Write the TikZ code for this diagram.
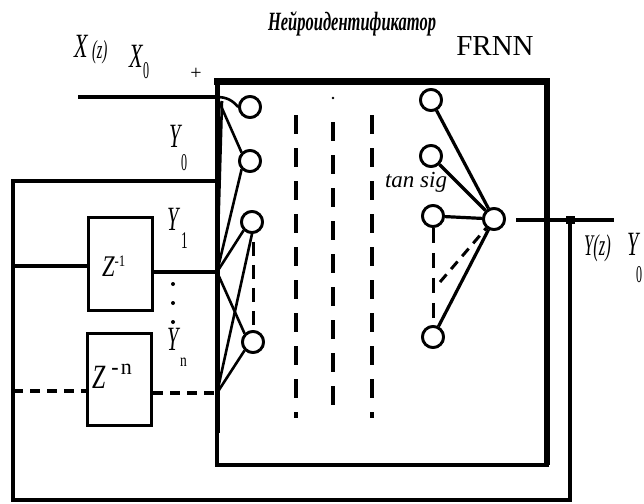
\documentclass[tikz,border=0pt]{standalone}
\usepackage{fontspec}
\setmainfont{Liberation Serif}
\usetikzlibrary{calc}
\newcommand{\cnd}[2]{\scalebox{#1}[1]{#2}}
\begin{document}
\begin{tikzpicture}[x=1pt,y=-1pt,
  wire/.style={line width=3.2pt},
  thin wire/.style={line width=2.6pt},
  dwire/.style={line width=3.2pt,dash pattern=on 10pt off 7pt},
  colline/.style={line width=3.8pt,dash pattern=on 19pt off 14pt},
  neuron/.style={circle,draw,line width=2.8pt,minimum size=21pt,inner sep=0pt,fill=white},
  delay/.style={draw,line width=3pt,minimum width=64pt,inner sep=0pt},
  lbl/.style={inner sep=0pt,anchor=base west,font=\itshape\fontsize{34}{34}\selectfont},
  sub/.style={inner sep=0pt,anchor=base west,font=\fontsize{24}{24}\selectfont}
]
\useasboundingbox (0,0) rectangle (644,503);
\fill[white] (0,0) rectangle (644,503);

% main box
\coordinate (tr) at (547,81);
\coordinate (br) at (547,465);
\coordinate (bl) at (217,465);
\draw[line width=7pt] (214,81) -- (550,81);
\draw[line width=6pt] (547,78) -- (br);
\draw[line width=4pt] (549,465) -- (bl);
\draw[line width=5pt] (217,78) -- (217,433);
\draw[line width=3.5pt] (217,433) -- (217,467);

% junctions on box edge
\coordinate (jx) at (217,97);
\coordinate (j0) at (217,181);
\coordinate (j1) at (217,272);
\coordinate (jn) at (217,393);

% external lines
\coordinate (xin) at (78,97);
\coordinate (lt) at (13,181);
\coordinate (lb) at (13,500);
\coordinate (rb) at (570,500);
\coordinate (rj) at (570,220);
\coordinate (yout) at (614,220);
\draw[wire] (xin) -- (jx);
\draw[wire] (j0) -- (lt) -- (lb) -- (rb) -- (rj);

% delay blocks
\node[delay,minimum height=93pt] (z1) at (120,263.5) {};
\node[delay,minimum height=92pt] (zn) at (119.5,379) {};
\node[inner sep=0pt,anchor=base west] (z1t) at (102,276) {\itshape\fontsize{30}{30}\selectfont\cnd{0.75}{Z}\raisebox{10pt}{\upshape\fontsize{16}{16}\selectfont\cnd{0.8}{-1}}};
\node[inner sep=0pt,anchor=base west] (znt) at (92,388) {\itshape\fontsize{34}{34}\selectfont\cnd{0.7}{Z}\hspace{6pt}\raisebox{14pt}{\upshape\fontsize{22}{22}\selectfont\textbf{-}\hspace{2pt}n}};
\draw[wire] (13,266) -- (z1.west |- 0,266);
\draw[wire] (z1.east |- 0,272) -- (j1);
\draw[dwire] (13,391) -- (zn.west |- 0,391);
\draw[dwire] (zn.east |- 0,393) -- (jn);
% dotted
\foreach \yy in {284,303,322} \fill (173,\yy) circle (2pt);

% left neuron layer connections
\node[neuron] (a1) at (250,107) {};
\node[neuron] (a2) at (250,161) {};
\node[neuron] (a3) at (252,222) {};
\node[neuron] (a4) at (253,342) {};
\coordinate (jt) at (222,101);
\draw[thin wire] (jx) to[bend left=25] (a1.west);
\draw[thin wire] (jx) -- (a2.north west);
\draw[thin wire] (j1) -- (jt);
\draw[thin wire] (j1) -- (a2.south west);
\draw[thin wire] (j1) -- (a3.south west);
\draw[thin wire] (j1) -- (a4.north west);
\draw[thin wire] (jn) -- (a3.south);
\draw[thin wire] (jn) -- (a4.south west);
\node[neuron] at (a1) {};
\node[neuron] at (a2) {};
\node[neuron] at (a3) {};
\node[neuron] at (a4) {};
\draw[line width=3pt,dash pattern=on 14pt off 9pt] ($(a3.south)+(1,8)$) -- ($(a4.north)+(0,-4)$);

% hidden layer columns
\draw[colline] (296,115) -- (296,418);
\draw[colline] (333,122) -- (333,418);
\fill (333,98) circle (1.3pt);
\draw[colline] (372,115) -- (372,418);

% right layer
\node[neuron] (b1) at (431,100) {};
\node[neuron] (b2) at (431,156) {};
\node[neuron] (b3) at (433,216) {};
\node[neuron] (b4) at (433,337) {};
\node[neuron] (o) at (494,219) {};
\coordinate (dend) at (440,282);
\draw[wire] (b1) -- (o);
\draw[wire] (b2) -- (o);
\draw[wire] (b3) -- (o);
\draw[wire] (b4) -- (o);
\draw[line width=3pt,dash pattern=on 10pt off 7pt] (dend) -- (o);
\draw[line width=3pt,dash pattern=on 15pt off 10pt] (b3.south) -- (b4.north);
\node[neuron] at (b1) {};
\node[neuron] at (b2) {};
\node[neuron] at (b3) {};
\node[neuron] at (b4) {};
\node[neuron] at (o) {};

% output
\draw[wire] (516,220) -- (yout);
\fill (566,216) rectangle (575,224);

% labels
\node[lbl] (lxz) at (74,57) {\cnd{0.65}{X}};
\node[inner sep=0pt,anchor=base west,font=\itshape\fontsize{26}{26}\selectfont] (lxzs) at (92,59) {\cnd{0.55}{(z)}};
\node[lbl] (lx0) at (129,67) {\cnd{0.65}{X}};
\node[sub] (lx0s) at (143,78) {\cnd{0.5}{0}};
\node[inner sep=0pt,font=\fontsize{20}{20}\selectfont] (plus) at (196,74) {+};
\node[lbl] (ly0) at (169,147) {\cnd{0.6}{Y}};
\node[sub] (ly0s) at (181,170) {\cnd{0.5}{0}};
\node[lbl] (ly1) at (167,230) {\cnd{0.6}{Y}};
\node[sub] (ly1s) at (181,248) {\cnd{0.55}{1}};
\node[lbl] (lyn) at (167,350) {\cnd{0.6}{Y}};
\node[sub] (lyns) at (180,366) {\cnd{0.75}{\fontsize{18}{18}\selectfont n}};
\node[inner sep=0pt,font=\itshape\fontsize{23}{23}\selectfont] (tansig) at (416,182) {tan sig};
\node[inner sep=0pt,font=\bfseries\itshape\fontsize{24}{24}\selectfont] (title) at (352,24) {\resizebox{168pt}{19pt}{Нейроидентификатор}};
\node[inner sep=0pt,font=\fontsize{29}{29}\selectfont] (frnn) at (495,46) {FRNN};
\node[inner sep=0pt,anchor=base west,font=\itshape\fontsize{30}{30}\selectfont] (lyz) at (584,255) {\cnd{0.55}{Y(z)}};
\node[lbl] (ly0r) at (627,255) {\cnd{0.6}{Y}};
\node[sub] (ly0rs) at (636,282) {\cnd{0.5}{0}};
\end{tikzpicture}
\end{document}
